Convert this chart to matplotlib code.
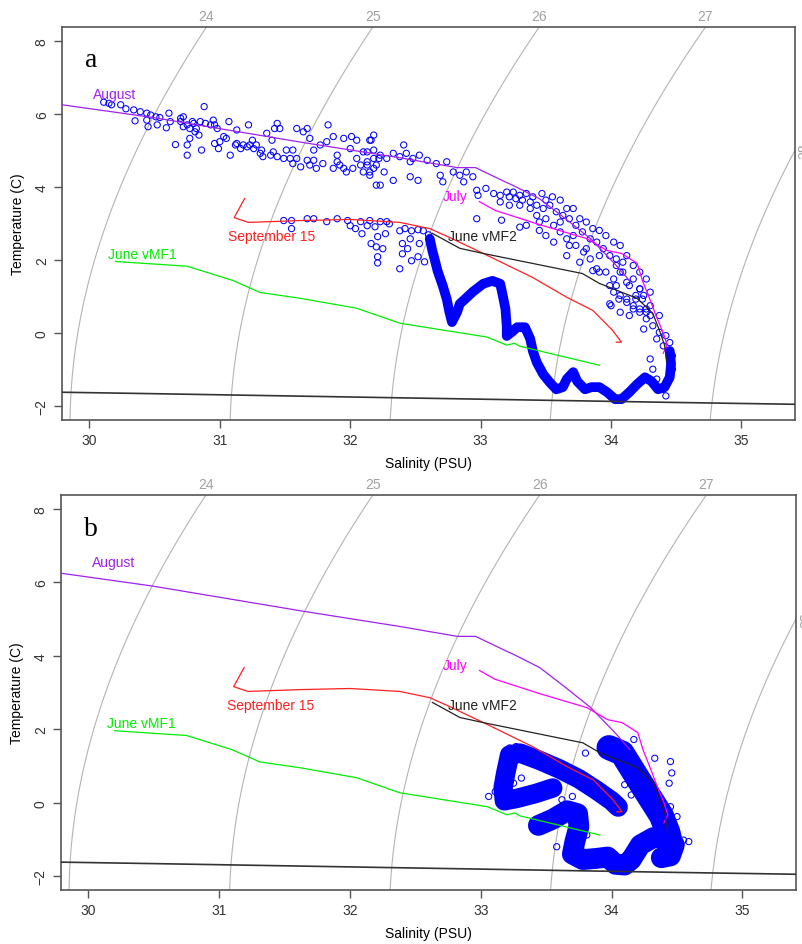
import numpy as np
import matplotlib.pyplot as plt

plt.rcParams["font.family"] = ["Liberation Sans", "DejaVu Sans"]

BLUE = "#0000FF"

# ---- reference profiles (salinity PSU, temperature C), same in both panels
aug_s = [29.79, 30.49, 31.65, 32.38, 32.82, 32.96, 33.20, 33.25, 33.45, 33.64, 33.84, 33.93, 34.04, 34.14]
aug_t = [6.25, 5.90, 5.21, 4.80, 4.53, 4.53, 4.12, 4.04, 3.68, 3.16, 2.59, 2.26, 1.85, 1.44]
jul_s = [32.99, 33.11, 33.45, 33.81, 33.97, 34.08, 34.20, 34.24, 34.30, 34.35, 34.40, 34.43, 34.40]
jul_t = [3.60, 3.36, 2.97, 2.59, 2.26, 2.18, 1.91, 1.44, 0.90, 0.43, 0.00, -0.33, -0.55]
sep_s = [31.19, 31.11, 31.22, 31.62, 32.00, 32.38, 32.61, 32.76, 33.02, 33.40, 33.66, 33.86, 34.01, 34.08, 34.04]
sep_t = [3.68, 3.16, 3.03, 3.08, 3.11, 3.03, 2.86, 2.62, 2.18, 1.52, 0.98, 0.62, 0.08, -0.25, -0.25]
vmf1_s = [30.20, 30.75, 31.10, 31.31, 31.62, 32.05, 32.38, 33.05, 33.20, 33.26, 33.30, 33.91]
vmf1_t = [1.96, 1.83, 1.44, 1.11, 0.95, 0.68, 0.27, -0.11, -0.33, -0.28, -0.36, -0.88]
vmf2_s = [32.63, 32.84, 33.02, 33.78, 33.91, 34.20, 34.32, 34.37, 34.41, 34.43]
vmf2_t = [2.73, 2.32, 2.18, 1.63, 1.36, 0.95, 0.54, 0.08, -0.33, -0.83]

# freezing line
frz_s = [29.79, 30.5, 31.5, 32.5, 33.5, 34.5, 35.41]
frz_t = [-1.62, -1.66, -1.72, -1.78, -1.84, -1.90, -1.95]

isopycnals = [24, 25, 26, 27, 28]

# ---- panel a: upper (warm) band of observations
up_s = [30.11, 30.15, 30.17, 30.24, 30.28, 30.34, 30.39, 30.44, 30.47, 30.51, 30.54, 30.35, 30.44,
        30.45, 30.52, 30.61, 30.62, 30.59, 30.70, 30.72, 30.75, 30.77, 30.80, 30.81, 30.84, 30.77,
        30.75, 30.75, 30.66, 30.86, 30.88, 30.89, 30.93, 30.95, 30.96, 30.98, 30.96, 30.99, 31.05,
        31.07, 31.08, 31.13, 31.12, 31.16, 31.21, 31.22, 31.25, 31.26, 31.28, 31.32, 31.33, 31.36,
        31.40, 31.41, 31.44, 31.46, 31.42, 31.49, 31.51, 31.56, 31.59, 31.59, 31.62, 31.64, 31.67,
        31.69, 31.72, 31.72, 31.74, 31.77, 31.82, 31.83, 31.87, 31.90, 31.92, 31.95, 31.97, 32.00,
        32.01, 32.05, 32.05, 32.10, 32.13, 32.16, 32.18, 32.18, 32.20, 32.20,
        31.13, 31.18, 31.23, 31.31, 31.39, 31.44, 31.54, 31.56, 31.67, 31.69, 31.79, 31.87, 31.90,
        31.95, 32.02, 32.08, 32.13, 32.15, 32.22, 30.72, 30.79, 30.82, 30.85, 31.00, 31.03, 30.70,
        32.15, 32.10, 32.18, 32.23, 32.28, 32.33, 32.38, 32.41, 32.43, 32.46, 32.48, 32.53, 32.59,
        32.13, 32.18, 32.26, 32.33, 32.23, 32.15, 32.46, 32.52, 32.66, 32.69, 32.74, 32.71, 32.79,
        32.84, 32.89, 32.87, 32.94, 32.97, 32.98, 33.04, 33.10, 33.15, 33.20, 33.25, 33.30, 33.35,
        33.40, 33.47, 33.50, 33.55, 33.61, 33.66, 33.71, 33.76, 33.81, 33.86, 33.91, 33.96, 34.02,
        34.07, 34.12, 34.17, 34.22, 34.27, 34.30, 33.15, 33.22, 33.30, 33.38, 33.43, 33.50, 33.56,
        33.61, 33.66, 33.73, 33.79, 33.84, 33.89, 33.91, 33.99, 34.02, 34.07, 34.12, 34.17, 34.22,
        34.27, 32.97, 33.16, 33.30, 33.35, 33.45, 33.50, 33.56, 33.66, 33.68, 33.76, 33.86, 33.96,
        34.04, 34.09, 34.14, 34.19, 34.24, 34.30, 33.99, 34.07,
        33.22, 33.27, 33.32, 33.38, 33.43, 33.48, 33.53, 33.58, 33.63, 33.68, 33.73, 33.78, 33.84,
        33.89, 33.94, 33.99, 34.04, 34.09, 33.45, 33.61, 33.71, 33.81, 33.91, 34.02, 34.12, 34.22,
        34.00, 34.06, 34.12, 34.17, 34.22, 34.14, 34.27, 34.32, 34.25, 34.37, 34.42, 34.40, 34.45,
        34.47, 34.45, 34.47, 34.45, 34.40, 34.42, 34.35, 34.32, 34.30, 34.35, 34.27, 34.19, 34.22,
        34.04, 34.07, 34.17, 34.25, 34.30, 34.37]
up_t = [6.32, 6.29, 6.25, 6.25, 6.14, 6.11, 6.06, 6.02, 5.97, 5.92, 5.90, 5.81, 5.83,
        5.65, 5.70, 6.02, 5.79, 5.62, 5.79, 5.92, 5.70, 5.60, 5.74, 5.51, 5.42, 5.33,
        5.15, 4.87, 5.16, 5.01, 6.20, 5.74, 5.70, 5.83, 5.70, 5.60, 5.19, 5.05, 5.33,
        5.79, 4.87, 5.56, 5.15, 5.05, 5.10, 5.70, 5.28, 5.05, 5.15, 5.01, 4.83, 5.47,
        5.28, 4.96, 5.74, 5.60, 5.60, 4.78, 5.01, 5.01, 5.60, 4.78, 4.55, 5.51, 5.60,
        5.33, 5.01, 4.73, 4.51, 5.15, 5.24, 5.70, 5.38, 4.87, 4.60, 5.33, 4.41, 5.05,
        5.38, 5.28, 4.78, 4.41, 4.96, 5.28, 5.42, 4.78, 4.60, 4.05,
        5.19, 5.15, 5.15, 4.92, 4.87, 4.83, 4.78, 4.64, 4.73, 4.60, 4.64, 4.51, 4.69,
        4.51, 4.51, 4.60, 4.69, 4.41, 4.78, 5.65, 5.79, 5.60, 5.79, 5.24, 5.38, 5.88,
        5.28, 4.96, 5.01, 4.87, 4.78, 4.92, 4.83, 5.15, 4.92, 4.69, 4.78, 4.87, 4.73,
        4.60, 4.51, 4.41, 4.18, 4.05, 4.32, 4.28, 4.18, 4.64, 4.32, 4.69, 4.14, 4.41,
        4.32, 4.41, 4.14, 4.28, 3.91, 3.77, 3.96, 3.82, 3.77, 3.86, 3.86, 3.77, 3.82,
        3.73, 3.82, 3.64, 3.73, 3.64, 3.41, 3.41, 3.13, 3.04, 2.86, 2.81, 2.67, 2.49,
        2.40, 2.12, 1.85, 1.67, 1.48, 1.12, 3.59, 3.50, 3.50, 3.41, 3.22, 3.13, 2.95,
        2.77, 2.58, 2.40, 2.22, 2.03, 1.76, 1.67, 1.30, 1.12, 1.03, 0.93, 0.75, 0.66,
        0.57, 3.13, 3.09, 2.90, 2.95, 2.81, 2.67, 2.49, 2.12, 2.40, 1.94, 1.71, 1.67,
        1.85, 1.67, 1.30, 1.03, 0.93, 0.75, 0.80, 0.57,
        3.73, 3.68, 3.64, 3.59, 3.50, 3.41, 3.50, 3.32, 3.22, 3.13, 2.95, 2.77, 2.58,
        2.49, 2.31, 2.12, 2.03, 1.94, 3.04, 3.04, 2.67, 2.31, 2.12, 1.48, 1.39, 1.21,
        0.75, 0.93, 0.84, 0.66, 0.57, 0.48, 0.39, 0.20, 0.11, 0.02, -0.07, -0.35, -0.26,
        -0.62, -0.81, -0.99, -1.26, -1.54, -1.72, -1.26, -0.99, -0.71, -0.16, 0.66, 0.93, 1.21,
        1.30, 1.67, 1.48, 1.03, 0.48, 0.48]

# panel a: cold shelf water (row at ~3 C and short drops)
row_s = [31.49, 31.55, 31.55, 31.67, 31.72, 31.82, 31.90, 31.98, 32.00, 32.08, 32.13, 32.15, 32.23,
         32.28, 32.30, 32.04, 32.09, 32.19, 32.21, 32.20, 32.21, 32.21, 32.27, 32.25, 32.16,
         32.38, 32.42, 32.47, 32.52, 32.56, 32.60, 32.40, 32.40, 32.38, 32.44, 32.47, 32.52,
         32.57, 32.53, 32.46]
row_t = [3.08, 3.08, 2.86, 3.13, 3.13, 3.05, 3.13, 3.08, 2.94, 3.05, 2.94, 3.08, 3.05,
         3.05, 2.99, 2.86, 2.72, 2.91, 2.64, 2.36, 2.09, 1.92, 2.72, 2.31, 2.45,
         2.80, 2.86, 2.80, 2.83, 2.80, 2.69, 2.45, 2.17, 1.76, 2.31, 1.98, 2.09,
         1.95, 2.45, 2.58]

# panel a: dense winding track
loop_s = [32.61, 32.63, 32.65, 32.67, 32.71, 32.74, 32.76, 32.78, 32.82, 32.84, 32.88, 32.94, 33.02,
          33.09, 33.15, 33.17, 33.19, 33.20, 33.20, 33.24, 33.28, 33.34, 33.38, 33.40, 33.43, 33.48,
          33.53, 33.58, 33.63, 33.66, 33.71, 33.74, 33.80, 33.85, 33.91, 33.97, 34.03, 34.08, 34.14,
          34.20, 34.26, 34.31, 34.36, 34.41, 34.45, 34.46, 34.45]
loop_t = [2.58, 2.25, 1.98, 1.70, 1.29, 0.93, 0.58, 0.30, 0.58, 0.80, 0.93, 1.13, 1.35,
          1.43, 1.35, 1.02, 0.66, 0.19, -0.08, 0.03, 0.16, 0.16, -0.16, -0.49, -0.80, -1.13,
          -1.35, -1.54, -1.48, -1.26, -1.07, -1.32, -1.54, -1.48, -1.48, -1.62, -1.81, -1.81, -1.62,
          -1.40, -1.21, -1.32, -1.54, -1.48, -1.21, -0.85, -0.49]

# ---- panel b: dense tracks and scattered points
tri_s = [33.55, 33.42, 33.28, 33.18, 33.17, 33.19, 33.22, 33.30, 33.45, 33.60, 33.75, 33.88, 34.00, 34.05]
tri_t = [0.40, 0.25, 0.12, 0.05, 0.40, 0.80, 1.30, 1.35, 1.15, 0.92, 0.65, 0.35, 0.05, -0.12]
low_s = [33.44, 33.55, 33.66, 33.74, 33.75, 33.72, 33.70, 33.78, 33.88, 33.97, 34.03, 34.10, 34.15,
         34.22, 34.32, 34.42, 34.48, 34.45, 34.38]
low_t = [-0.62, -0.45, -0.22, -0.30, -0.65, -1.05, -1.40, -1.55, -1.52, -1.48, -1.68, -1.70, -1.55,
         -1.15, -0.95, -0.95, -1.15, -1.45, -1.50]
east_s = [33.98, 34.08, 34.15, 34.22, 34.30, 34.38, 34.43, 34.45]
east_t = [1.50, 1.35, 0.95, 0.55, 0.10, -0.35, -0.80, -1.10]
bsc_s = [33.80, 34.17, 34.33, 34.45, 34.46, 34.44, 34.50, 34.45, 34.55, 34.59, 34.10, 34.15, 33.70,
         33.62, 33.06, 33.11, 33.25, 33.31, 33.16, 33.58, 33.81, 33.45, 33.43, 33.22, 33.27]
bsc_t = [1.35, 1.72, 1.21, 1.12, 0.81, 0.53, -0.38, -0.11, -1.02, -1.06, 0.49, 0.21, 0.17,
         0.08, 0.17, 0.30, 0.53, 0.67, 0.85, -1.20, -0.88, -0.74, -0.47, 1.49, 1.53]


def sigma_t(s, t):
    # UNESCO 1981 density at the surface, minus 1000
    rw = (999.842594 + 6.793952e-2 * t - 9.095290e-3 * t**2 + 1.001685e-4 * t**3
          - 1.120083e-6 * t**4 + 6.536332e-9 * t**5)
    a = 8.24493e-1 - 4.0899e-3 * t + 7.6438e-5 * t**2 - 8.2467e-7 * t**3 + 5.3875e-9 * t**4
    b = -5.72466e-3 + 1.0227e-4 * t - 1.6546e-6 * t**2
    return rw + a * s + b * s**1.5 + 4.8314e-4 * s**2 - 1000.0


def circles(ax, s, t):
    ax.scatter(s, t, s=20, facecolors="none", edgecolors=BLUE, linewidths=0.75, zorder=2)


def draw_track(ax, s, t, width):
    ax.plot(s, t, color=BLUE, lw=width, solid_capstyle="round", solid_joinstyle="round", zorder=2)
    circles(ax, s, t)


def base_panel(ax, letter):
    xlim, ylim = (29.79, 35.41), (-2.38, 8.38)
    ss, tt = np.meshgrid(np.linspace(29.5, 35.6, 300), np.linspace(-2.6, 8.6, 300))
    ax.contour(ss, tt, sigma_t(ss, tt), levels=isopycnals, colors="#b4b4b4", linewidths=0.8, zorder=1)
    sline = np.linspace(29.0, 36.5, 2000)
    for lev in isopycnals[:-1]:
        s_top = np.interp(lev, sigma_t(sline, ylim[1]), sline)
        ax.annotate(str(lev), (s_top, ylim[1]), xytext=(0, 3), textcoords="offset points",
                    ha="center", va="bottom", fontsize=10, color="#a0a0a0", annotation_clip=False)
    tline = np.linspace(ylim[1], ylim[0], 2000)
    t_right = np.interp(isopycnals[-1], sigma_t(xlim[1], tline), tline)
    ax.annotate(str(isopycnals[-1]), (xlim[1], t_right), xytext=(2, 0), textcoords="offset points",
                ha="left", va="center", rotation=90, fontsize=10, color="#a0a0a0", annotation_clip=False)
    ax.plot(frz_s, frz_t, color="#333333", lw=1.2, zorder=4)

    lines = [(aug_s, aug_t, "#a020f0", "August", 30.03, 6.55),
             (jul_s, jul_t, "#ff00ff", "July", 32.71, 3.75),
             (sep_s, sep_t, "#ff2020", "September 15", 31.06, 2.65),
             (vmf1_s, vmf1_t, "#00ee00", "June vMF1", 30.14, 2.16),
             (vmf2_s, vmf2_t, "#222222", "June vMF2", 32.75, 2.65)]
    for s, t, c, name, lx, ly in lines:
        ax.plot(s, t, color=c, lw=0.9, zorder=4)
        ax.text(lx, ly, name, color=c, fontsize=10, ha="left", va="center", zorder=5)

    ax.text(0.031, 0.90, letter, transform=ax.transAxes, fontsize=20,
            family=["Liberation Serif", "DejaVu Serif"], ha="left", va="baseline")
    ax.set_xlim(xlim)
    ax.set_ylim(ylim)
    ax.set_xticks([30, 31, 32, 33, 34, 35])
    ax.set_yticks([-2, 0, 2, 4, 6, 8])
    ax.tick_params(length=6, width=1, color="#555555", labelsize=10, labelcolor="#333333")
    for lab in ax.get_yticklabels():
        lab.set_rotation(90)
        lab.set_va("center")
    for sp in ax.spines.values():
        sp.set_color("#555555")
        sp.set_linewidth(1.2)
    ax.set_xlabel("Salinity (PSU)", fontsize=10, labelpad=6)
    ax.set_ylabel("Temperature (C)", fontsize=10, labelpad=7)


fig = plt.figure(figsize=(8.03, 9.45), dpi=100)
ax_a = fig.add_axes([0.0772, 0.5545, 0.9128, 0.4159])
ax_b = fig.add_axes([0.0760, 0.0571, 0.9153, 0.4180])

base_panel(ax_a, "a")
circles(ax_a, up_s, up_t)
circles(ax_a, row_s, row_t)
draw_track(ax_a, loop_s, loop_t, 7)

base_panel(ax_b, "b")
draw_track(ax_b, tri_s, tri_t, 14)
draw_track(ax_b, low_s, low_t, 15)
draw_track(ax_b, east_s, east_t, 18)
circles(ax_b, bsc_s, bsc_t)

fig.savefig("out.png", dpi=100)
